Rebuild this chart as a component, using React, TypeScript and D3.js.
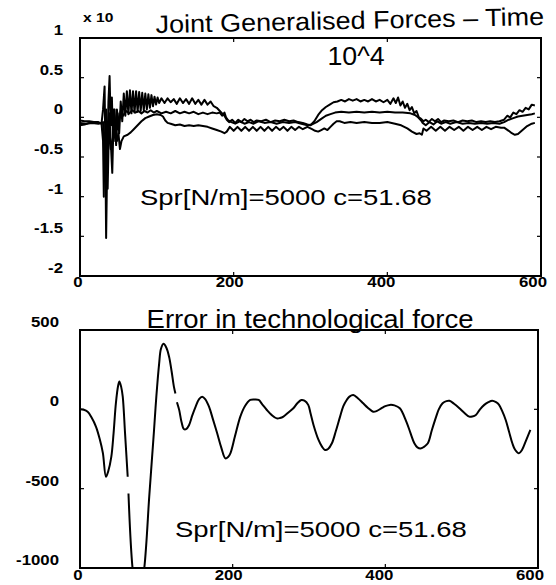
import React from 'react';
import * as d3 from 'd3';

const W = 556;
const H = 585;

// x axis (time) ticks, shared by both panels
const timeTicks = [0, 200, 400, 600];
const timeTickLabels = ['0', '200', '400', '600'];

// top panel: joint generalised forces (x 10^4)
const forceTicks = [1, 0.5, 0, -0.5, -1, -1.5, -2];
const forceTickLabels = ['1', '0.5', '0', '-0.5', '-1', '-1.5', '-2'];

// bottom panel: error in technological force
const errorTicks = [500, 0, -500, -1000];
const errorTickLabels = ['500', '0', '-500', '-1000'];

type Pt = [number, number];

const forceUpper: Pt[] = [
  [0, -0.04], [6, -0.05], [12, -0.05], [18, -0.06], [24, -0.06], [28, -0.08], [30, 0.1], [32, 0.39], [33, -0.4],
  [34, -1.52], [35.5, -0.5], [37, 0.2], [38.5, 0.52], [40, -0.1], [41.5, 0.25], [43, -0.3], [45, 0.1], [47, -0.35],
  [49, 0.05], [51, -0.2], [53, 0.2], [55, -0.05], [57, 0.3], [59, 0.02], [61, 0.33], [63, 0.04], [65, 0.34],
  [67, 0.05], [69, 0.33], [71, 0.06], [73, 0.33], [75, 0.07], [77, 0.32], [79, 0.08], [81, 0.31], [83, 0.09],
  [85, 0.3], [87, 0.1], [89, 0.29], [91, 0.12], [93, 0.28], [95, 0.14], [97, 0.26], [99, 0.16], [101, 0.25],
  [103, 0.18], [106, 0.24], [110, 0.18], [114, 0.24], [118, 0.19], [122, 0.23], [126, 0.17], [130, 0.24],
  [134, 0.18], [138, 0.23], [142, 0.17], [146, 0.24], [150, 0.17], [154, 0.22], [158, 0.16], [162, 0.22],
  [166, 0.16], [170, 0.2], [174, 0.14], [178, 0.12], [182, 0.08], [185, 0.05], [188, 0.02], [191, -0.03],
  [194, -0.06], [198, -0.03], [202, -0.07], [206, -0.03], [210, -0.06], [214, -0.02], [218, -0.05], [222, -0.03],
  [226, -0.06], [230, -0.04], [236, -0.05], [242, -0.03], [248, -0.06], [254, -0.04], [260, -0.05], [266, -0.03],
  [272, -0.05], [278, -0.04], [284, -0.06], [290, -0.07], [296, -0.09], [300, -0.1], [305, -0.05], [310, 0.03],
  [315, 0.09], [320, 0.13], [325, 0.16], [330, 0.19], [335, 0.2], [340, 0.22], [345, 0.2], [350, 0.23],
  [355, 0.21], [360, 0.23], [365, 0.2], [370, 0.22], [375, 0.2], [380, 0.23], [385, 0.2], [390, 0.22],
  [395, 0.19], [400, 0.22], [404, 0.17], [408, 0.24], [411, 0.18], [414, 0.25], [417, 0.15], [420, 0.2],
  [423, 0.12], [426, 0.17], [429, 0.09], [432, 0.13], [435, 0.05], [438, 0.08], [441, 0.0], [444, -0.02],
  [447, -0.05], [450, -0.03], [454, -0.06], [458, -0.02], [462, -0.05], [466, -0.02], [470, -0.06], [474, -0.04],
  [480, -0.05], [486, -0.04], [492, -0.06], [498, -0.04], [504, -0.05], [510, -0.04], [516, -0.06], [522, -0.05],
  [528, -0.06], [534, -0.05], [540, -0.06], [546, -0.05], [552, -0.03], [556, 0.02], [560, 0.0], [564, 0.06],
  [568, 0.04], [572, 0.09], [576, 0.07], [580, 0.12], [584, 0.1], [588, 0.16], [592, 0.15],
];

const forceMiddle: Pt[] = [
  [0, -0.07], [8, -0.08], [16, -0.07], [24, -0.08], [30, -0.06], [32, -0.6], [34, 0.1], [36, -0.9], [38, 0.05],
  [40, -0.3], [42, -0.7], [44, 0.1], [46, -0.3], [48, 0.1], [50, -0.1], [53, 0.08], [56, 0.02], [60, 0.08],
  [64, 0.05], [68, 0.09], [72, 0.06], [76, 0.08], [80, 0.05], [84, 0.08], [88, 0.06], [92, 0.09], [96, 0.06],
  [100, 0.08], [106, 0.05], [112, 0.07], [118, 0.05], [124, 0.08], [130, 0.05], [136, 0.07], [142, 0.05],
  [148, 0.07], [154, 0.04], [160, 0.06], [166, 0.04], [172, 0.06], [178, 0.05], [182, 0.06], [185, 0.02],
  [188, 0.06], [190, 0.0], [193, -0.04], [197, -0.06], [202, -0.08], [208, -0.05], [214, -0.08], [220, -0.06],
  [226, -0.08], [232, -0.05], [240, -0.07], [248, -0.06], [256, -0.08], [264, -0.06], [272, -0.07], [280, -0.06],
  [288, -0.08], [296, -0.1], [302, -0.09], [308, -0.06], [314, -0.02], [320, 0.02], [326, 0.04], [332, 0.06],
  [340, 0.07], [350, 0.06], [360, 0.07], [370, 0.06], [380, 0.07], [390, 0.06], [400, 0.07], [410, 0.06],
  [420, 0.06], [430, 0.05], [436, 0.03], [440, 0.0], [444, -0.04], [446, -0.07], [450, -0.1], [455, -0.06],
  [460, -0.09], [465, -0.05], [470, -0.08], [476, -0.06], [482, -0.08], [490, -0.06], [498, -0.08], [506, -0.07],
  [514, -0.08], [522, -0.07], [530, -0.08], [538, -0.07], [546, -0.08], [552, -0.06], [558, -0.03], [564, -0.01],
  [570, 0.01], [576, 0.02], [582, 0.03], [588, 0.04], [592, 0.05],
];

const forceLower: Pt[] = [
  [0, -0.1], [6, -0.09], [12, -0.07], [18, -0.06], [24, -0.07], [28, -0.08], [30, -0.3], [31, -1.0], [32, -0.2],
  [36, -0.5], [38, -0.1], [40, -0.4], [44, -0.2], [48, -0.3], [50, -0.2], [52, -0.4], [54, -0.3], [57, -0.24],
  [62, -0.22], [66, -0.19], [70, -0.15], [75, -0.1], [80, -0.05], [85, -0.01], [90, 0.01], [95, 0.03],
  [100, 0.04], [105, 0.03], [108, 0.01], [111, -0.04], [114, -0.07], [118, -0.08], [124, -0.1], [130, -0.09],
  [136, -0.11], [142, -0.1], [148, -0.11], [154, -0.1], [160, -0.11], [166, -0.12], [172, -0.14], [178, -0.16],
  [184, -0.18], [188, -0.2], [191, -0.18], [195, -0.12], [200, -0.17], [205, -0.12], [210, -0.17], [215, -0.12],
  [220, -0.17], [225, -0.12], [230, -0.17], [235, -0.12], [240, -0.17], [245, -0.12], [250, -0.17], [255, -0.12],
  [260, -0.16], [265, -0.12], [270, -0.17], [275, -0.12], [280, -0.16], [285, -0.12], [290, -0.15], [296, -0.12],
  [302, -0.15], [306, -0.17], [310, -0.18], [314, -0.16], [318, -0.14], [322, -0.16], [326, -0.12], [330, -0.08],
  [334, -0.05], [338, -0.05], [344, -0.07], [352, -0.06], [360, -0.07], [370, -0.06], [380, -0.07], [390, -0.07],
  [400, -0.06], [410, -0.08], [418, -0.1], [426, -0.14], [432, -0.18], [438, -0.21], [442, -0.2], [445, -0.22],
  [447, -0.14], [451, -0.17], [457, -0.12], [463, -0.17], [469, -0.12], [475, -0.17], [481, -0.12], [487, -0.16],
  [493, -0.12], [499, -0.17], [505, -0.12], [511, -0.16], [517, -0.12], [523, -0.16], [529, -0.12], [535, -0.15],
  [541, -0.12], [548, -0.13], [552, -0.13], [558, -0.17], [562, -0.2], [566, -0.22], [570, -0.21], [576, -0.16],
  [582, -0.11], [588, -0.08], [592, -0.07],
];

const errorForce: (Pt | null)[] = [
  [0, 0], [5, -3], [10, -15], [15, -50], [21, -110], [26, -190], [30, -276], [34, -425], [37, -390], [41, -300],
  [44, -150], [47, 38], [50, 150], [51.6, 175], [54, 140], [56, 80], [59, -150], [62.5, -425], null,
  [63.5, -531], [69, -1010], [76, -1250], [84, -1010], [90.7, -550], [94, -330], [97, -130], [100, 80],
  [103.7, 290], [106, 380], [109.4, 413], [113, 390], [116.7, 332], [120, 240], [123, 143], [125, 100], null,
  [127, 45], [130, -5], [133, -80], [136, -124], [139, -125], [142.8, -100], [147, -40], [151.5, 17], [156, 65],
  [160, 80], [164, 65], [169, 17], [174, -60], [179.7, -151], [185, -240], [190.5, -309], [194, -300],
  [197, -277], [203, -170], [210, -46], [216, 20], [223, 59], [229, 62], [234, 59], [239, 30], [244.8, -4],
  [251, -35], [257.8, -57], [262, -55], [266.5, -46], [273, -20], [279.5, 7], [285, 40], [290, 59], [294, 55],
  [299, 28], [302, -25], [306, -100], [312.5, -193], [317, -235], [321, -256], [325, -250], [330, -214],
  [335, -140], [340.7, -46], [345, 20], [349.4, 59], [353, 80], [358, 90], [364, 70], [371, 38], [377, 10],
  [384, -15], [389, -10], [395, 7], [400, 20], [405.8, 28], [412, 25], [419, 7], [427.5, -77], [433, -150],
  [438, -214], [442, -240], [447, -246], [451, -235], [455.7, -214], [461, -130], [466.6, -46], [470, 0],
  [475, 38], [480, 52], [484, 54], [490, 35], [497, 7], [503, -20], [510, -46], [514, -45], [518.6, -36],
  [524, 0], [529.6, 28], [535, 45], [540, 54], [545, 45], [549, 28], [553, -10], [557.7, -67], [562, -140],
  [566.4, -214], [570, -255], [575, -277], [579, -256], [584, -200], [590, -130],
];

const FONT = '"Liberation Sans", Arial, Helvetica, sans-serif';

function SText(props: {
  x: number; y: number; sx?: number; rot?: number; anchor?: string; size: number; weight?: string | number;
  children: React.ReactNode;
}) {
  const { x, y, sx = 1, rot = 0, anchor = 'start', size, weight = 'normal', children } = props;
  return (
    <text
      transform={`translate(${x},${y}) rotate(${rot}) scale(${sx},1)`}
      textAnchor={anchor as any}
      fontSize={size}
      fontWeight={weight as any}
      fontFamily={FONT}
      fill="#000"
    >
      {children}
    </text>
  );
}

function Frame(props: {
  x: d3.ScaleLinear<number, number>;
  y: d3.ScaleLinear<number, number>;
  yTicks: number[];
  yLabels: string[];
  labelRight: number;
  xLabelDy: number;
}) {
  const { x, y, yTicks, yLabels, labelRight, xLabelDy } = props;
  const [x0, x1] = x.range();
  const [yb, yt] = y.range();
  const tl = 4;
  return (
    <g>
      <rect x={x0} y={yt} width={x1 - x0} height={yb - yt} fill="none" stroke="#000" strokeWidth={2} />
      {yTicks.map((v) => (
        <g key={'yt' + v}>
          <line x1={x0} x2={x0 + tl} y1={y(v)} y2={y(v)} stroke="#000" strokeWidth={1.2} />
          <line x1={x1 - tl} x2={x1} y1={y(v)} y2={y(v)} stroke="#000" strokeWidth={1.2} />
        </g>
      ))}
      {timeTicks.map((v) => (
        <g key={'xt' + v}>
          <line x1={x(v)} x2={x(v)} y1={yb} y2={yb - tl} stroke="#000" strokeWidth={1.2} />
          <line x1={x(v)} x2={x(v)} y1={yt} y2={yt + tl} stroke="#000" strokeWidth={1.2} />
        </g>
      ))}
      {yTicks.map((v, i) => (
        <SText key={'yl' + v} x={labelRight} y={y(v) - 3} sx={1.2} anchor="end" size={14} weight="bold">
          {yLabels[i]}
        </SText>
      ))}
      {timeTicks.map((v, i) => (
        <SText key={'xl' + v} x={x(v) - 2 - (v / 600) * 6} y={yb + xLabelDy} sx={1.2} anchor="middle" size={14} weight="bold">
          {timeTickLabels[i]}
        </SText>
      ))}
    </g>
  );
}

export default function App() {
  const xTop = d3.scaleLinear().domain([0, 600]).range([80, 541]);
  const yTop = d3.scaleLinear().domain([-2, 1]).range([276, 38]);
  const xBot = d3.scaleLinear().domain([0, 600]).range([80, 538]);
  const yBot = d3.scaleLinear().domain([-1000, 500]).range([568, 330]);

  const lineTop = d3
    .line<Pt>()
    .x((d) => xTop(d[0]))
    .y((d) => yTop(d[1]));
  const lineBot = d3
    .line<Pt | null>()
    .defined((d) => d !== null)
    .x((d) => xBot((d as Pt)[0]))
    .y((d) => yBot((d as Pt)[1]))
    .curve(d3.curveCatmullRom.alpha(0.5));

  return (
    <svg width={W} height={H} style={{ position: 'absolute', left: 0, top: 0, background: '#fff' }}>
      <rect x={0} y={0} width={W} height={H} fill="#fff" />
      <defs>
        <clipPath id="clipTop">
          <rect x={80} y={38} width={461} height={238} />
        </clipPath>
        <clipPath id="clipBot">
          <rect x={80} y={330} width={458} height={238} />
        </clipPath>
      </defs>

      {/* top panel */}
      <g clipPath="url(#clipTop)" fill="none" stroke="#000" strokeWidth={2} strokeLinejoin="round">
        <path d={lineTop(forceLower) || ''} />
        <path d={lineTop(forceMiddle) || ''} />
        <path d={lineTop(forceUpper) || ''} />
      </g>
      <Frame x={xTop} y={yTop} yTicks={forceTicks} yLabels={forceTickLabels} labelRight={63} xLabelDy={11} />
      <SText x={83} y={22} sx={1.2} size={13} weight="bold">x 10</SText>
      <SText x={350} y={29} sx={1.08} rot={-1.2} anchor="middle" size={25}>
        Joint Generalised Forces – Time
      </SText>
      <SText x={356} y={65} sx={1.07} anchor="middle" size={25}>
        10^4
      </SText>
      <SText x={140} y={205} sx={1.25} size={22}>
        Spr[N/m]=5000 c=51.68
      </SText>

      {/* bottom panel */}
      <g clipPath="url(#clipBot)" fill="none" stroke="#000" strokeWidth={2} strokeLinejoin="round">
        <path d={lineBot(errorForce) || ''} />
      </g>
      <Frame x={xBot} y={yBot} yTicks={errorTicks} yLabels={errorTickLabels} labelRight={59} xLabelDy={12} />
      <SText x={310} y={328} sx={1.1} anchor="middle" size={25}>
        Error in technological force
      </SText>
      <SText x={175} y={537} sx={1.25} size={22}>
        Spr[N/m]=5000 c=51.68
      </SText>
    </svg>
  );
}
